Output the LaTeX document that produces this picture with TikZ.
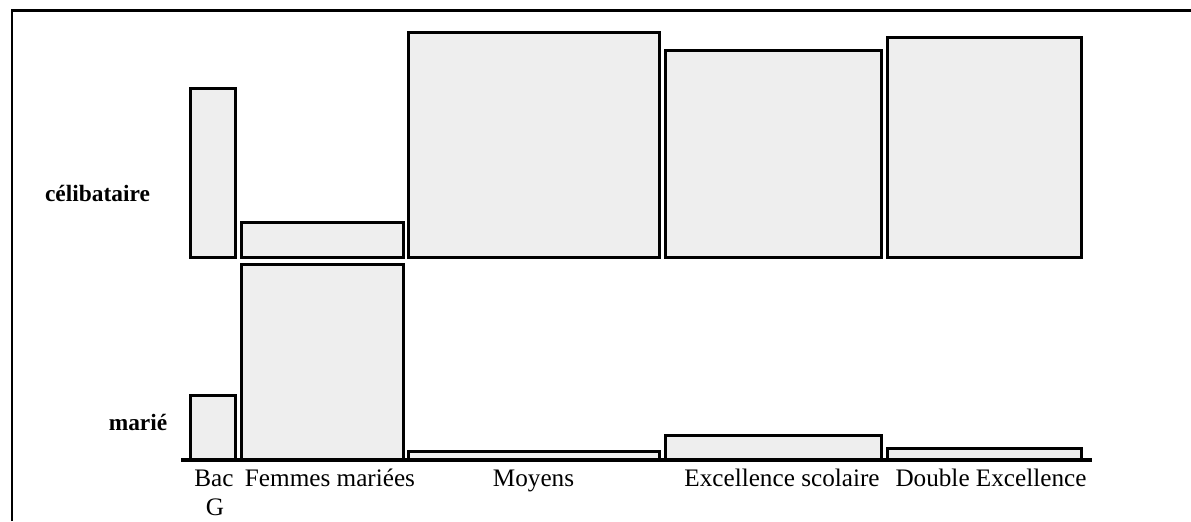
\documentclass[tikz,border=0pt]{standalone}
\usepackage{fontspec}
\setmainfont{Liberation Serif}
\definecolor{cellfill}{HTML}{EEEEEE}
\begin{document}
\begin{tikzpicture}[x=0.5pt,y=-0.5pt,
  cell/.style={draw=black,fill=cellfill,line width=1.5pt},
  rowlab/.style={font=\fontsize{11.7}{14}\selectfont\bfseries,anchor=base,inner sep=0pt},
  collab/.style={font=\fontsize{12.6}{14}\selectfont,anchor=base,inner sep=0pt}]
\useasboundingbox (0,0) rectangle (1191,521);
% outer frame (top and left edges)
\draw[line width=1.4pt] (12,521) -- (12,10.5) -- (1191,10.5);
% single (upper) cells
\draw[cell] (190.5,88.5) rectangle (235,257.5);
\draw[cell] (241.5,222) rectangle (403,257.5);
\draw[cell] (408.5,32) rectangle (659,257.5);
\draw[cell] (665.5,50.5) rectangle (881,257.5);
\draw[cell] (887,37.5) rectangle (1081,257.5);
% married (lower) cells
\draw[cell] (190.5,395.5) rectangle (235,459);
\draw[cell] (241.5,264) rectangle (403,459);
\draw[cell] (408.5,451) rectangle (659,459);
\draw[cell] (665.5,435) rectangle (881,459);
\draw[cell] (887,448.5) rectangle (1081,459);
% axis
\draw[line width=1.75pt] (181,460) -- (1092,460);
% row labels
\node[rowlab] (celib) at (97.5,201.5) {célibataire};
\node[rowlab] (marie) at (138,430.5) {marié};
% column labels
\node[collab] (bac) at (214,486.5) {Bac};
\node[collab] (bacg) at (215,515) {G};
\node[collab] (femmes) at (330,486.5) {Femmes mariées};
\node[collab] (moyens) at (533.5,486.5) {Moyens};
\node[collab] (excel) at (782,486.5) {Excellence scolaire};
\node[collab] (double) at (991,486.5) {Double Excellence};
\end{tikzpicture}
\end{document}
